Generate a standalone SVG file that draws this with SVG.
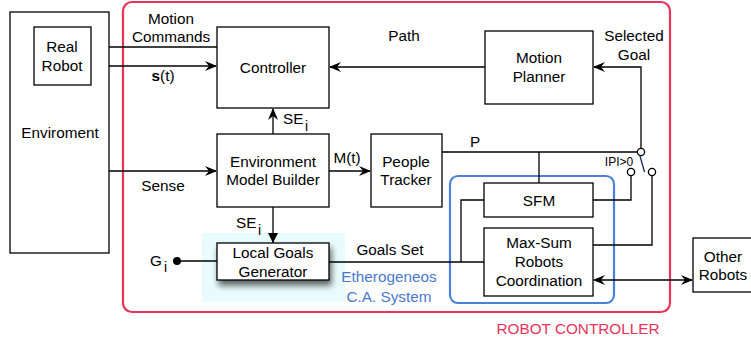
<svg xmlns="http://www.w3.org/2000/svg" width="751" height="343" viewBox="0 0 751 343">
  <style>
    .box { fill: #ffffff; stroke: #000000; stroke-width: 1.3; }
    .wire { fill: none; stroke: #000000; stroke-width: 1.3; }
    text { font-family: "Liberation Sans", Arial, sans-serif; font-size: 15.3px; fill: #000000; }
    .c { text-anchor: middle; }
    .small { font-size: 12px; }
    .sub { font-size: 14px; }
    .blue { fill: #4a78cf; }
    .red { fill: #e8345a; }
  </style>
  <defs>
    <marker id="arr" viewBox="0 0 12 10" refX="11" refY="5" markerWidth="12" markerHeight="10" markerUnits="userSpaceOnUse" orient="auto-start-reverse">
      <path d="M0,0 L12,5 L0,10 L4,5 z" fill="#000000"/>
    </marker>
    <marker id="tri" viewBox="0 0 10 10" refX="10" refY="5" markerWidth="10" markerHeight="10" markerUnits="userSpaceOnUse" orient="auto">
      <path d="M0,0 L10,5 L0,10 z" fill="#000000"/>
    </marker>
    <filter id="shadow" x="-20%" y="-30%" width="140%" height="180%">
      <feGaussianBlur in="SourceAlpha" stdDeviation="3"/>
      <feOffset dx="2" dy="5" result="b"/>
      <feComponentTransfer><feFuncA type="linear" slope="0.6"/></feComponentTransfer>
      <feMerge><feMergeNode/><feMergeNode in="SourceGraphic"/></feMerge>
    </filter>
  </defs>

  <!-- robot controller frame -->
  <rect id="robot-controller" x="123" y="2" width="547" height="310" rx="9" fill="none" stroke="#e8345a" stroke-width="2.2"/>
  <text class="c red" x="578" y="334">ROBOT CONTROLLER</text>

  <!-- heterogeneous collision avoidance system area -->
  <rect x="202" y="233" width="143" height="69" fill="#e8fbfd"/>
  <rect id="ca-system" x="450" y="176" width="164" height="127" rx="8" fill="none" stroke="#4a80dc" stroke-width="2.2"/>
  <text class="c blue" x="389" y="282">Etherogeneos</text>
  <text class="c blue" x="389" y="302">C.A. System</text>

  <g id="connectors">
    <!-- controller -> real robot -->
    <path class="wire" d="M217,47 H92" marker-end="url(#arr)"/>
    <!-- real robot -> controller -->
    <path class="wire" d="M91,66 H216" marker-end="url(#arr)"/>
    <!-- environment -> model builder -->
    <path class="wire" d="M109,171 H216" marker-end="url(#arr)"/>
    <!-- model builder -> controller -->
    <path class="wire" d="M273,134 V109" marker-end="url(#arr)"/>
    <!-- model builder -> people tracker -->
    <path class="wire" d="M329,171 H370" marker-end="url(#arr)"/>
    <!-- motion planner -> controller -->
    <path class="wire" d="M485,67 H330" marker-end="url(#arr)"/>
    <!-- switch -> motion planner -->
    <path class="wire" d="M641,148.5 V67 H594" marker-end="url(#arr)"/>
    <!-- model builder -> local goals generator -->
    <path class="wire" d="M273,207 V243" marker-end="url(#tri)"/>
    <!-- people set P -->
    <path class="wire" d="M442,152 H637.5"/>
    <path class="wire" d="M539,152 V183"/>
    <!-- SFM / max-sum to switch -->
    <path class="wire" d="M593,200 H631 V175.5"/>
    <path class="wire" d="M593,245 H652 V175.5"/>
    <!-- goals set -->
    <path class="wire" d="M329,262 H484"/>
    <path class="wire" d="M461,262 V200 H484"/>
    <!-- goal input -->
    <path class="wire" d="M177,261 H217"/>
    <circle cx="177" cy="261" r="4" fill="#000000"/>
    <!-- max-sum <-> other robots -->
    <path class="wire" d="M594,280 H692" marker-start="url(#arr)" marker-end="url(#arr)"/>
    <!-- switch contacts -->
    <circle cx="641" cy="152" r="3.6" fill="#ffffff" stroke="#000000" stroke-width="1.3"/>
    <circle cx="631" cy="172" r="3.6" fill="#ffffff" stroke="#000000" stroke-width="1.3"/>
    <circle cx="652" cy="172" r="3.6" fill="#ffffff" stroke="#000000" stroke-width="1.3"/>
    <path d="M640,156 L644.5,172" stroke="#1c2f5a" stroke-width="1.3"/>
  </g>

  <!-- connector labels -->
  <text class="c" x="171" y="24">Motion</text>
  <text class="c" x="171" y="42">Commands</text>
  <text class="c" x="163" y="81"><tspan font-weight="bold">s</tspan>(t)</text>
  <text class="c" x="163" y="191">Sense</text>
  <text x="283" y="124">SE</text>
  <text x="305" y="131" class="sub">i</text>
  <text x="236" y="228">SE</text>
  <text x="258" y="235" class="sub">i</text>
  <text class="c" x="347" y="163">M(t)</text>
  <text class="c" x="404" y="41">Path</text>
  <text class="c" x="634" y="41">Selected</text>
  <text class="c" x="634" y="60">Goal</text>
  <text class="c" x="475" y="147">P</text>
  <text class="c small" x="619" y="166">IPI&gt;0</text>
  <text class="c" x="390" y="255">Goals Set</text>
  <text x="150" y="266">G</text>
  <text x="164" y="272" class="sub">i</text>

  <g id="enviroment">
    <rect class="box" x="10" y="12" width="99" height="241"/>
    <text class="c" x="60" y="138">Enviroment</text>
  </g>
  <g id="real-robot">
    <rect class="box" x="34" y="27" width="57" height="58"/>
    <text class="c" x="62" y="52">Real</text>
    <text class="c" x="62" y="71">Robot</text>
  </g>
  <g id="controller">
    <rect class="box" x="217" y="27" width="112" height="81"/>
    <text class="c" x="273" y="73">Controller</text>
  </g>
  <g id="motion-planner">
    <rect class="box" x="485" y="31" width="108" height="73"/>
    <text class="c" x="539" y="63">Motion</text>
    <text class="c" x="539" y="82">Planner</text>
  </g>
  <g id="model-builder">
    <rect class="box" x="217" y="134" width="112" height="73"/>
    <text class="c" x="273" y="167">Environment</text>
    <text class="c" x="273" y="185">Model Builder</text>
  </g>
  <g id="people-tracker">
    <rect class="box" x="371" y="134" width="71" height="73"/>
    <text class="c" x="406" y="167">People</text>
    <text class="c" x="406" y="185">Tracker</text>
  </g>
  <g id="local-goals-generator">
    <rect class="box" x="217" y="243" width="112" height="37" filter="url(#shadow)"/>
    <text class="c" x="273" y="258">Local Goals</text>
    <text class="c" x="273" y="277">Generator</text>
  </g>
  <g id="sfm">
    <rect class="box" x="484" y="183" width="109" height="34"/>
    <text class="c" x="539" y="206">SFM</text>
  </g>
  <g id="max-sum">
    <rect class="box" x="484" y="228" width="109" height="68"/>
    <text class="c" x="539" y="248">Max-Sum</text>
    <text class="c" x="539" y="267">Robots</text>
    <text class="c" x="539" y="286">Coordination</text>
  </g>
  <g id="other-robots">
    <rect class="box" x="693" y="238" width="62" height="54"/>
    <text class="c" x="723" y="262">Other</text>
    <text class="c" x="723" y="280">Robots</text>
  </g>
</svg>
